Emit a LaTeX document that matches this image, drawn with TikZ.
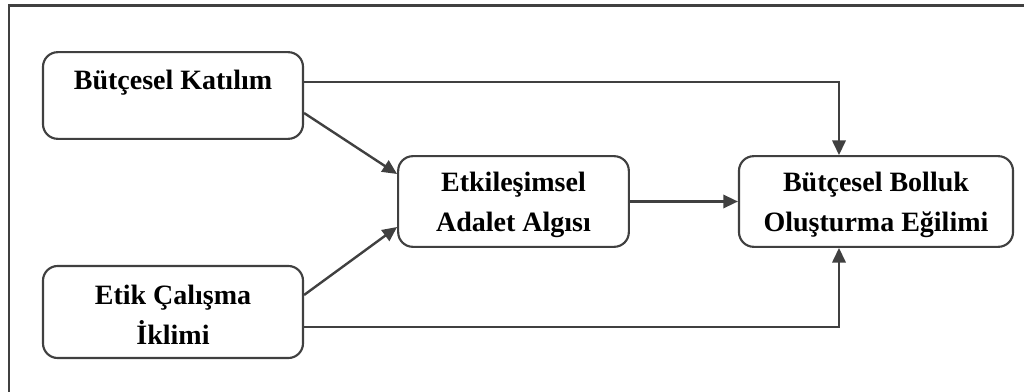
\documentclass[tikz,border=0pt]{standalone}
\usepackage{fontspec}
\setmainfont{Liberation Serif}
\usetikzlibrary{arrows.meta,calc}
\definecolor{linegray}{HTML}{404040}
\begin{document}
\begin{tikzpicture}[x=0.75pt,y=-0.75pt,
  box/.style={draw=linegray,line width=1.6pt,rounded corners=11pt,fill=white,inner sep=0pt},
  txt/.style={align=center,inner sep=0pt,font=\fontsize{21pt}{25.5pt}\selectfont\bfseries},
  arr/.style={draw=linegray,line width=1.8pt,-{Triangle[length=11pt,width=10pt]}}]
  \useasboundingbox (0,0) rectangle (1024,392);
  % outer frame (top and left edges)
  \draw[linegray,line width=1.6pt] (9,392) -- (9,5.5) -- (1024,5.5);
  % boxes
  \node[box,minimum width=195pt,minimum height=65pt] (n1) at (173,95.5) {};
  \node[box,minimum width=195pt,minimum height=69pt] (n2) at (173,312) {};
  \node[box,minimum width=173pt,minimum height=68pt] (n3) at (513.5,201.5) {};
  \node[box,minimum width=205.5pt,minimum height=68pt] (n4) at (876,201.5) {};
  % box texts
  \node[txt] (t1) at ($(n1.center)+(0,-12.5)$) {Bütçesel Katılım};
  \node[txt] (t2) at ($(n2.center)+(0,3)$) {Etik Çalışma\\[4.5pt]İklimi};
  \node[txt] (t3) at ($(n3.center)+(0,3.5)$) {Etkileşimsel\\[4.5pt]Adalet Algısı};
  \node[txt] (t4) at ($(n4.center)+(0,3.5)$) {Bütçesel Bolluk\\[4.5pt]Oluşturma Eğilimi};
  % connectors
  \draw[arr] ($(n1.east)+(0,-13.5)$) -| ($(n4.north)+(-37,0)$);
  \draw[arr] ($(n1.east)+(0,17.5)$) -- ($(n3.west)+(0,-27.5)$);
  \draw[arr] ($(n2.east)+(0,-17)$) -- ($(n3.west)+(0,25.5)$);
  \draw[arr] (n3.east) -- (n4.west);
  \draw[arr] ($(n2.east)+(0,15)$) -| ($(n4.south)+(-37,0)$);
\end{tikzpicture}
\end{document}
